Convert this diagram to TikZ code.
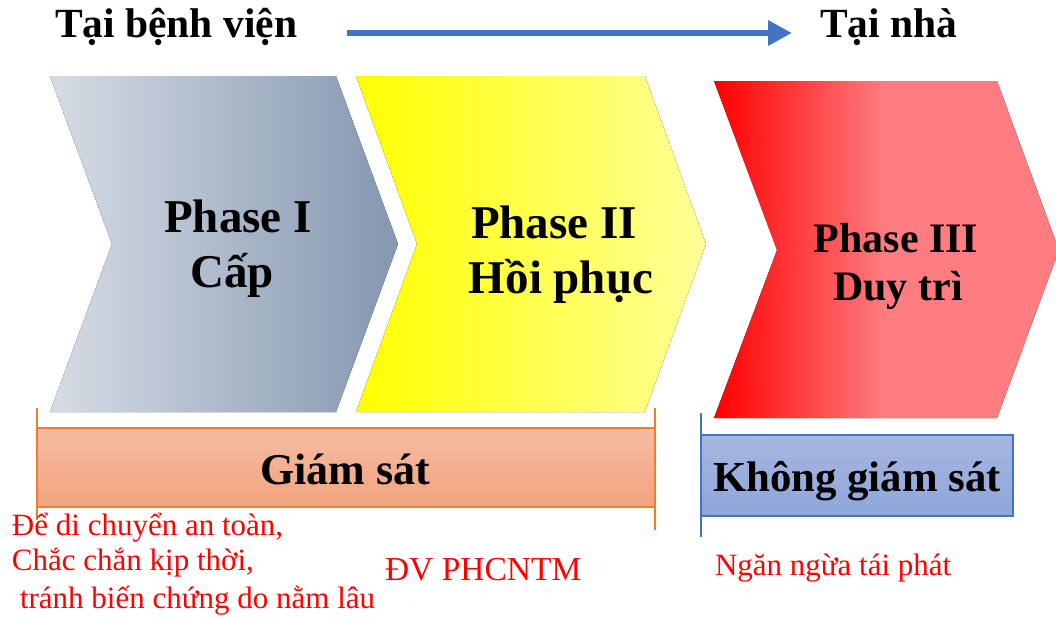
\documentclass[tikz,border=0pt]{standalone}
\usepackage{fontspec}
\setmainfont{Liberation Serif}
\usetikzlibrary{arrows.meta}

\definecolor{grayL}{HTML}{D6DCE5}
\definecolor{grayR}{HTML}{8497B0}
\definecolor{yelL}{HTML}{FFFF00}
\definecolor{yelR}{HTML}{FFFF99}
\definecolor{redL}{HTML}{FF0000}
\definecolor{redR}{HTML}{FF7C80}
\definecolor{salT}{HTML}{F5BCA2}
\definecolor{salB}{HTML}{F2A37E}
\definecolor{salLine}{HTML}{ED7D31}
\definecolor{bluT}{HTML}{A6B6E1}
\definecolor{bluB}{HTML}{8EA6D9}
\definecolor{bluLine}{HTML}{4472C4}
\definecolor{noteRed}{HTML}{FF0000}

% red chevron: red on the left, reaching pink at the middle
\pgfdeclarehorizontalshading{redchev}{100bp}{color(0bp)=(redL); color(25bp)=(redL); color(50bp)=(redR); color(100bp)=(redR)}

\tikzset{
  lbl/.style={inner sep=0pt, outer sep=0pt},
  headtxt/.style={lbl, anchor=base west, font=\fontsize{41.5}{46}\selectfont\bfseries},
  phasetxt/.style={lbl, anchor=base, font=\fontsize{47}{55}\selectfont\bfseries},
  phase3txt/.style={lbl, anchor=base, font=\fontsize{42}{48}\selectfont\bfseries},
  bandtxt/.style={lbl, anchor=base, font=\fontsize{44}{50}\selectfont\bfseries},
  notetxt/.style={lbl, anchor=base west, text=noteRed, font=\fontsize{31}{36}\selectfont},
}

\begin{document}
\begin{tikzpicture}[x=1pt, y=-1pt]
\useasboundingbox (0,0) rectangle (1056,619);

% top direction arrow
\node[headtxt] (hosp) at (55,37) {Tại bệnh viện};
\node[headtxt] (home) at (820,37) {Tại nhà};
\coordinate (arrA) at (347,33);
\coordinate (arrB) at (792,33);
\draw[bluLine, line width=6.5pt, -{Triangle[length=24pt, width=24pt]}] (arrA) -- (arrB);

% chevrons
\fill[left color=grayL, right color=grayR]
  (50,76) -- (336,76) -- (398,244) -- (336,412) -- (50,412) -- (112,244) -- cycle;
\fill[left color=yelL, right color=yelR]
  (356,76) -- (645,76) -- (706,244) -- (645,412) -- (356,412) -- (417,244) -- cycle;
\fill[shading=redchev]
  (714,81) -- (997,81) -- (1056,242) -- (1056,258) -- (997,418) -- (714,418) -- (777,250) -- cycle;

\node[phasetxt] (p1a) at (238,232) {Phase I};
\node[phasetxt] (p1b) at (232,287) {Cấp};
\node[phasetxt] (p2a) at (554,238) {Phase II};
\node[phasetxt] (p2b) at (561,293) {Hồi phục};
\node[phase3txt] (p3a) at (896,252) {Phase III};
\node[phase3txt] (p3b) at (898,300) {Duy trì};

% monitored span
\coordinate (sL1) at (37,408);  \coordinate (sL2) at (37,520);
\coordinate (sR1) at (655,408); \coordinate (sR2) at (655,530);
\draw[salLine, line width=1.5pt] (sL1) -- (sL2);
\draw[salLine, line width=1.5pt] (sR1) -- (sR2);
\draw[salLine, line width=1.2pt, top color=salT, bottom color=salB]
  (37,428) rectangle (655,507);
\node[bandtxt] (mon) at (345,484) {Giám sát};

% unmonitored span
\coordinate (uL1) at (701,413); \coordinate (uL2) at (701,537);
\draw[bluLine, line width=1.5pt] (uL1) -- (uL2);
\draw[bluLine, line width=1.2pt, top color=bluT, bottom color=bluB]
  (701,435) rectangle (1013,516);
\node[bandtxt, font=\fontsize{42.8}{48}\selectfont\bfseries] (nomon) at (857,491) {Không giám sát};

% notes
\node[notetxt] (n1) at (12,535) {Để di chuyển an toàn,};
\node[notetxt] (n2) at (12,570) {Chắc chắn kịp thời,};
\node[notetxt] (n3) at (20,608) {tránh biến chứng do nằm lâu};
\node[notetxt, font=\fontsize{33.5}{38}\selectfont] (n4) at (385,580) {ĐV PHCNTM};
\node[notetxt] (n5) at (715,575) {Ngăn ngừa tái phát};
\end{tikzpicture}
\end{document}
